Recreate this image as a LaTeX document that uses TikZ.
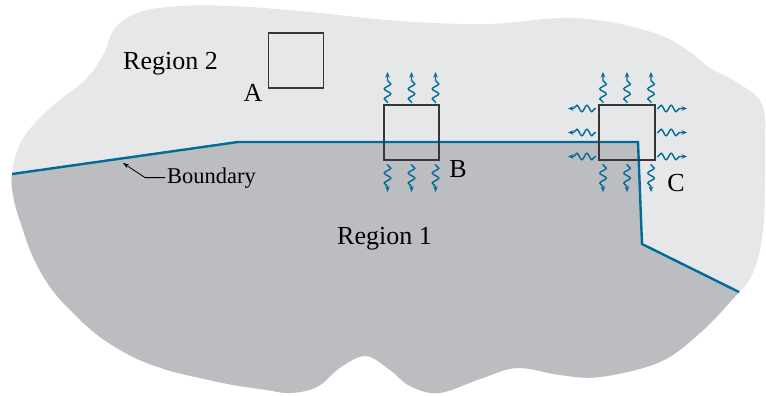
\documentclass[tikz,border=0pt]{standalone}
\usepackage{fontspec}
\setmainfont{Liberation Serif}
\usetikzlibrary{arrows.meta, decorations.pathmorphing}
\definecolor{regionLight}{RGB}{230,231,233}
\definecolor{regionDark}{RGB}{188,189,192}
\definecolor{boundBlue}{RGB}{0,106,154}
\definecolor{boxGray}{RGB}{55,55,55}

\begin{document}
\begin{tikzpicture}[x=1pt, y=-1pt,
    cell/.style={draw=boxGray, line width=1.3pt, minimum width=55pt,
                 minimum height=55pt, inner sep=0pt, outer sep=0pt},
    wave/.style={draw=boundBlue, line width=1.4pt, -{Stealth[length=5.5pt,width=4.5pt]},
                 decorate, decoration={snake, amplitude=3.3pt, segment length=10pt,
                 pre length=1pt, post length=5pt}},
    lbl/.style={font=\fontsize{26}{30}\selectfont, inner sep=0pt, anchor=base},
    boundary/.style={draw=boundBlue, line width=2.4pt},
    leader/.style={draw=black, line width=0.8pt, -{Stealth[length=6pt,width=4pt]}}
  ]
    \path[use as bounding box] (0,0) rectangle (766,396);
    \def\blob{plot[smooth cycle, tension=0.6] coordinates {
      (12,174) (22,140) (50,108) (85,80) (103,55) (115,28) (140,12) (180,6)
      (230,6) (300,11) (400,21) (488,24) (560,18) (610,22) (660,35) (690,52)
      (710,68) (736,82) (762,104) (765,150) (763,230) (752,275) (730,302)
      (700,333) (660,362) (600,377) (560,375) (517,368) (480,379) (439,393)
      (410,386) (390,370) (366,356) (341,367) (317,387) (290,393) (267,390)
      (233,385) (200,378) (167,370) (133,357) (100,337) (73,313) (50,287)
      (33,257) (23,230) (14,200)}}

    % the two regions
    \fill[regionLight] \blob;
    \coordinate (bL) at (12,174);
    \coordinate (bK1) at (238,142);
    \coordinate (bK2) at (638,142);
    \coordinate (bK3) at (642,244);
    \coordinate (bR) at (739,292);
    \begin{scope}
      \clip \blob;
      \fill[regionDark] (-20,178.5) -- (bL) -- (bK1) -- (bK2) -- (bK3) -- (bR)
        -- (800,322) -- (800,420) -- (-20,420) -- cycle;
    \end{scope}
    \draw[boundary] (bL) -- (bK1) -- (bK2) -- (bK3) -- (bR);

    % boxes
    \node[cell] (boxA) at (296,60.5) {};
    \node[cell] (boxB) at (411.5,132.5) {};
    \node[cell, minimum width=56pt] (boxC) at (627,132.5) {};

    % heat flow
    \foreach \d in {-24,0,24} {
      \draw[wave] ([xshift=\d pt, yshift=2pt]boxB.north) -- ++(0,-31);
      \draw[wave] ([xshift=\d pt, yshift=-4pt]boxB.south) -- ++(0,28);
      \draw[wave] ([xshift=\d pt, yshift=2pt]boxC.north) -- ++(0,-31);
      \draw[wave] ([xshift=\d pt, yshift=-4pt]boxC.south) -- ++(0,28);
      \draw[wave] ([xshift=-3pt, yshift=\d pt]boxC.west) -- ++(-28,0);
      \draw[wave] ([xshift=2pt, yshift=\d pt]boxC.east) -- ++(30,0);
    }

    % labels
    \node[lbl, anchor=base west] (reg2) at (123,70) {Region 2};
    \node[lbl, anchor=base west] (reg1) at (337,244) {Region 1};
    \node[lbl] (labA) at (253,101) {A};
    \node[lbl] (labB) at (458,177) {B};
    \node[lbl] (labC) at (676,191) {C};
    \node[font=\fontsize{22.5}{27}\selectfont, inner sep=0pt, anchor=base west]
      (bndText) at (167,183) {Boundary};
    \coordinate (bndTip) at (123,163);
    \draw[leader] ([xshift=-2pt]bndText.west) -- ++(-20,0) -- (bndTip);
\end{tikzpicture}
\end{document}
